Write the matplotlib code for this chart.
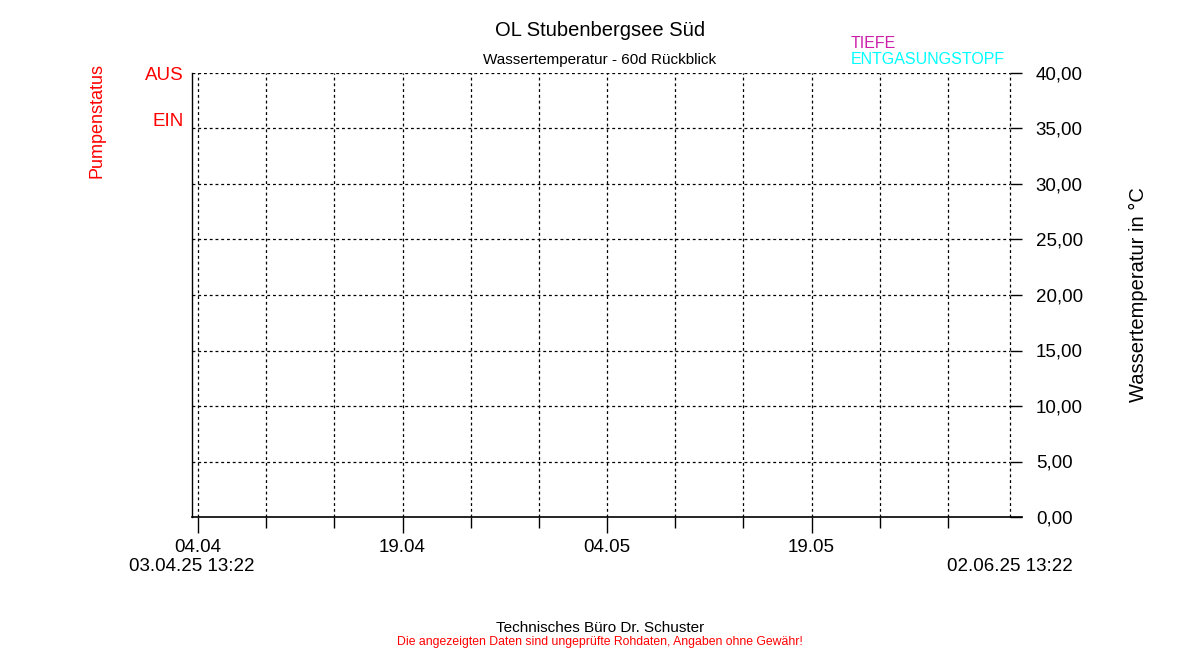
import matplotlib
matplotlib.use("Agg")
from datetime import datetime, timedelta
import matplotlib.pyplot as plt
from matplotlib.lines import Line2D

plt.rcParams['font.family'] = ['Liberation Sans', 'DejaVu Sans']

# data / labels
title = "OL Stubenbergsee Süd"
subtitle = "Wassertemperatur - 60d Rückblick"
start = datetime(2025, 4, 3, 13, 22)
end = datetime(2025, 6, 2, 13, 22)
temp_ticks = [0, 5, 10, 15, 20, 25, 30, 35, 40]
major_days = [datetime(2025, 4, 4), datetime(2025, 4, 19), datetime(2025, 5, 4), datetime(2025, 5, 19)]
minor_days = [datetime(2025, 4, 4) + timedelta(days=5 * i) for i in range(12)]
pump_levels = [0, 1]
pump_labels = ["EIN", "AUS"]
series_names = ["TIEFE", "ENTGASUNGSTOPF"]
series_colors = ["#CC1FAA", "#00FFFF"]

W, H = 1200, 650
fig = plt.figure(figsize=(12, 6.5), dpi=100)
x0, x1, y0, y1 = 192, 1010, 73, 517
ax = fig.add_axes([x0 / W, 1 - y1 / H, (x1 - x0) / W, (y1 - y0) / H])

ax.set_xlim(start, end)
ax.set_ylim(0, 40)

grid_kw = dict(color='black', lw=0.9, linestyle=(0, (2.3, 2.3)))

# pump status axis on the left
pax = ax.twinx()
pax.set_ylim(-8.65, 1)
pax.yaxis.tick_left()
pax.set_yticks(pump_levels)
pax.set_yticklabels(pump_labels, fontsize=13.5, color='red')
pax.tick_params(axis='y', length=0, pad=6)
for s in pax.spines.values():
    s.set_visible(False)
fig.text(97 / W, 1 - 120 / H, "Pumpenstatus", rotation=90, color='red', fontsize=13,
         ha='center', va='center')

# y axis on the right
ax.yaxis.tick_right()
ax.yaxis.set_label_position('right')
ax.set_yticks(temp_ticks)
ax.set_yticklabels([f"{v:.2f}".replace('.', ',') for v in temp_ticks], fontsize=13.5)
ax.tick_params(axis='y', direction='out', length=8.6, width=1, pad=10, left=False, right=True)
ax.set_ylabel("Wassertemperatur in °C", fontsize=14.5, labelpad=33)
for v in temp_ticks[1:]:
    ax.axhline(v, **grid_kw)

# x axis
ax.set_xticks(major_days)
ax.set_xticklabels([d.strftime("%d.%m") for d in major_days], fontsize=13.5)
ax.set_xticks(minor_days, minor=True)
ax.tick_params(axis='x', which='major', direction='out', length=11.5, width=1, pad=4)
ax.tick_params(axis='x', which='minor', direction='out', length=8, width=1)
for d in minor_days:
    ax.axvline(d, **grid_kw)
ax.axvline(end, clip_on=False, **grid_kw)

for s in ['top', 'right', 'bottom']:
    ax.spines[s].set_visible(False)
ax.spines['left'].set_linewidth(1)
ax.add_line(Line2D([0, (1022 - x0) / (x1 - x0)], [0, 0], transform=ax.transAxes,
                   color='black', lw=1.2, clip_on=False))

# start/end time stamps
ax.text(start, -0.112, start.strftime("%d.%m.%y %H:%M"), transform=ax.get_xaxis_transform(),
        ha='center', va='center', fontsize=13.5)
ax.text(end, -0.112, end.strftime("%d.%m.%y %H:%M"), transform=ax.get_xaxis_transform(),
        ha='center', va='center', fontsize=13.5)

# titles
fig.text(600 / W, 1 - 31 / H, title, ha='center', va='center', fontsize=14.5)
fig.text(600 / W, 1 - 60 / H, subtitle, ha='center', va='center', fontsize=11)

# legend texts
for i, (name, c) in enumerate(zip(series_names, series_colors)):
    fig.text(851 / W, 1 - (43 + 17 * i) / H, name, color=c, ha='left', va='center', fontsize=11.5)

# footer
fig.text(600 / W, 1 - 628 / H, "Technisches Büro Dr. Schuster", ha='center', va='center', fontsize=11)
fig.text(600 / W, 1 - 642 / H, "Die angezeigten Daten sind ungeprüfte Rohdaten, Angaben ohne Gewähr!",
         ha='center', va='center', fontsize=8.8, color='red')

fig.savefig("out.png", dpi=100)
